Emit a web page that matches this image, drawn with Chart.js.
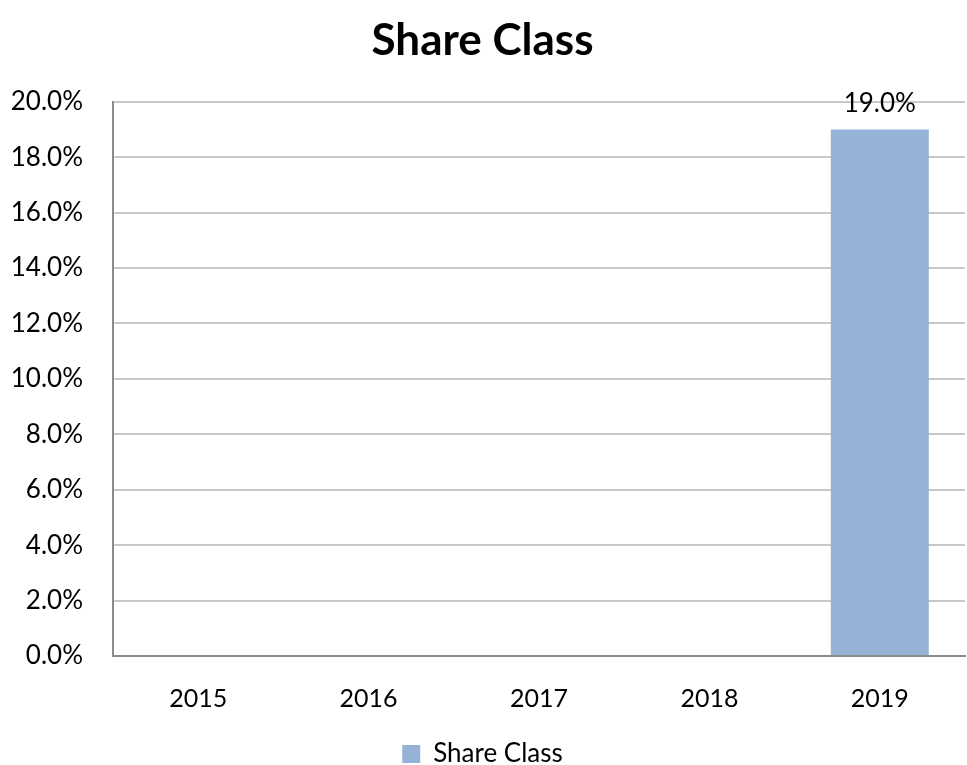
<!DOCTYPE html>
<html>
<head>
<meta charset="utf-8">
<script src="https://cdn.jsdelivr.net/npm/chart.js@4/dist/chart.umd.min.js"></script>
<style>
  html, body { margin: 0; padding: 0; background: #fff; }
  #wrap { width: 967px; height: 765px; }
</style>
</head>
<body>
<div id="wrap"><canvas id="shareChart"></canvas></div>
<script>
// data
const years = ['2015', '2016', '2017', '2018', '2019'];
const shareClass = [null, null, null, null, 19.0];
const yTicks = [0, 2, 4, 6, 8, 10, 12, 14, 16, 18, 20];

const FONT = 'Lato, "Open Sans", sans-serif';

// draws the "19.0%" label above the bar
const valueLabels = {
    id: 'valueLabels',
    afterDatasetsDraw(chart) {
        const ctx = chart.ctx;
        const meta = chart.getDatasetMeta(0);
        ctx.save();
        ctx.font = '26px ' + FONT;
        ctx.fillStyle = '#000';
        ctx.textAlign = 'center';
        ctx.textBaseline = 'middle';
        meta.data.forEach((bar, i) => {
            const v = shareClass[i];
            if (v === null) return;
            ctx.fillText(v.toFixed(1) + '%', bar.x, bar.y - 26);
        });
        ctx.restore();
    }
};

new Chart(document.getElementById('shareChart'), {
    type: 'bar',
    data: {
        labels: years,
        datasets: [{
            label: 'Share Class',
            data: shareClass,
            backgroundColor: '#95b3d7',
            barPercentage: 0.575,
            categoryPercentage: 1
        }]
    },
    options: {
        responsive: true,
        maintainAspectRatio: false,
        animation: false,
        layout: { padding: { left: 0, right: 2, top: 0, bottom: -12 } },
        scales: {
            y: {
                min: 0,
                max: 20,
                afterBuildTicks(axis) { axis.ticks = yTicks.map(v => ({ value: v })); },
                afterFit(axis) { axis.width = 113; },
                grid: { color: '#c8c8c8', lineWidth: 2, drawTicks: false },
                border: { color: '#8c8c8c', width: 2 },
                ticks: {
                    padding: 30,
                    color: '#000',
                    font: { family: FONT, size: 26 },
                    callback: v => v.toFixed(1) + '%'
                }
            },
            x: {
                afterFit(axis) { axis.height = 85; },
                grid: { display: false },
                border: { color: '#8c8c8c', width: 2 },
                ticks: {
                    padding: 20,
                    color: '#000',
                    font: { family: FONT, size: 25 }
                }
            }
        },
        plugins: {
            title: {
                display: true,
                text: 'Share Class',
                color: '#000',
                font: { family: FONT, size: 44, weight: 'bold' },
                padding: { top: 14, bottom: 35 }
            },
            legend: {
                position: 'bottom',
                labels: {
                    color: '#000',
                    font: { family: FONT, size: 26 },
                    boxWidth: 18,
                    boxHeight: 18,
                    padding: 0
                }
            },
            tooltip: { enabled: false }
        }
    },
    plugins: [valueLabels]
});
</script>
</body>
</html>
